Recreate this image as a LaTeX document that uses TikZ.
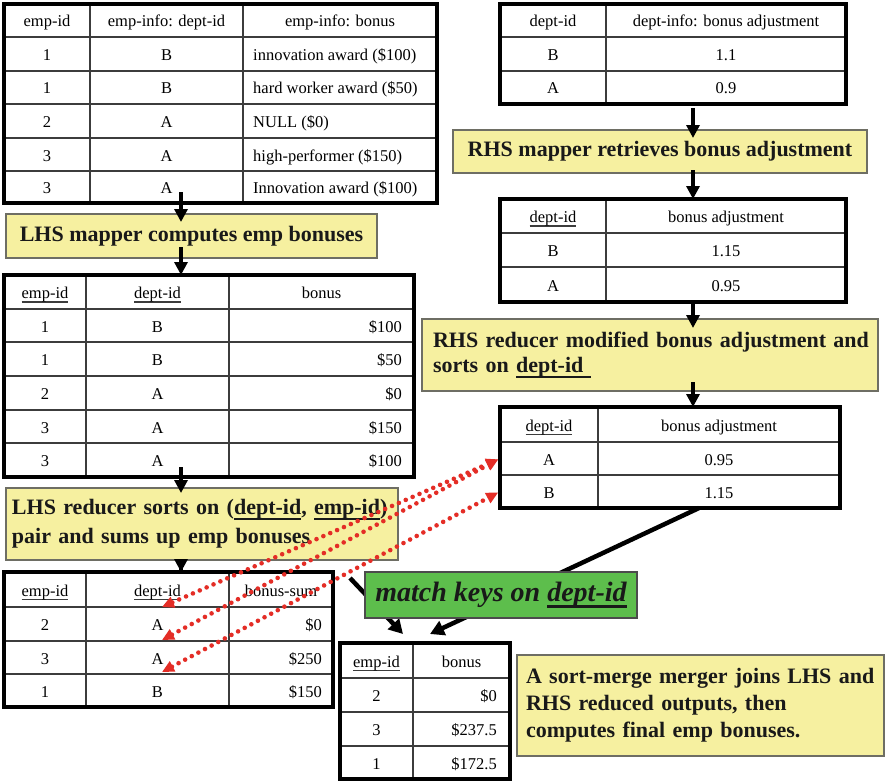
\documentclass[tikz,border=0pt]{standalone}
\usepackage{fontspec}
\setmainfont{Liberation Serif}
\usetikzlibrary{arrows.meta}
\definecolor{yel}{RGB}{246,240,160}
\definecolor{ybord}{RGB}{110,110,100}
\definecolor{grn}{RGB}{93,190,76}
\definecolor{myred}{RGB}{228,45,38}
\definecolor{gline}{RGB}{60,60,60}
\newsavebox\ulbx
\newcommand\ulT[1]{\sbox\ulbx{#1}\rlap{\color{gline}\vrule height -2.6pt depth 4.4pt width \wd\ulbx}\usebox\ulbx}
\newcommand\ulB[1]{\sbox\ulbx{#1}\rlap{\vrule height -3pt depth 5.2pt width \wd\ulbx}\usebox\ulbx}
\newcommand\ulG[1]{\sbox\ulbx{#1}\rlap{\vrule height -3.5pt depth 6.3pt width \wd\ulbx}\usebox\ulbx}
\begin{document}
\begin{tikzpicture}[x=1pt,y=-1pt,
  cell/.style={inner sep=0pt, text height=13pt, text depth=0pt, font=\fontsize{16.5}{19}\selectfont},
  tframe/.style={draw=black, line width=3.5pt, outer sep=0pt, inner sep=0pt, anchor=north west},
  grid/.style={draw=gline, line width=1.3pt},
  ybox/.style={draw=ybord, fill=yel, line width=1.5pt, outer sep=0pt, anchor=north west,
     font=\fontsize{22}{26}\selectfont\bfseries, text=black!90},
  gbox/.style={draw=black!70, fill=grn, line width=1.5pt, outer sep=0pt, anchor=north west,
     font=\fontsize{28}{32}\selectfont\bfseries\itshape, text=black!90},
  flow/.style={draw=black, line width=3.2pt, -{Triangle[length=13pt,width=13pt]}},
  merge/.style={draw=black, line width=4.5pt, -{Triangle[length=14pt,width=15pt]}},
  reddot/.style={draw=myred, line width=4.6pt, line cap=round, dash pattern=on 0pt off 7.5pt,
     {Triangle[length=12pt,width=11pt]}-{Triangle[length=12pt,width=11pt]}}
]
\useasboundingbox (0,0) rectangle (885,781);
\fill[white] (0,0) rectangle (885,781);

% ---------- Table 1 ----------
\foreach \x in {90,243} \draw[grid] (\x,4) -- (\x,203);
\foreach \y in {37,71,104,138,171} \draw[grid] (4,\y) -- (437,\y);
\node[tframe, minimum width=433pt, minimum height=199pt] (t1) at (4,4) {};
\node[cell] (t1h1) at (47,20.5) {emp-id};
\node[cell] (t1h2) at (166.5,20.5) {emp-info: dept-id};
\node[cell] (t1h3) at (340,20.5) {emp-info: bonus};
\foreach \e/\d/\b/\y [count=\i] in {1/B/{innovation award (\$100)}/54, 1/B/{hard worker award (\$50)}/87.5,
   2/A/{NULL (\$0)}/121, 3/A/{high-performer (\$150)}/154.5, 3/A/{Innovation award (\$100)}/187}{
  \node[cell] (t1e\i) at (47,\y) {\e};
  \node[cell] (t1d\i) at (166.5,\y) {\d};
  \node[cell, anchor=west] (t1b\i) at (253,\y) {\b};
}

% ---------- Table 2 ----------
\foreach \x in {86,229} \draw[grid] (\x,275) -- (\x,477);
\foreach \y in {309,342,376,410,443} \draw[grid] (4,\y) -- (414,\y);
\node[tframe, minimum width=410pt, minimum height=202pt] (t2) at (4,275) {};
\node[cell] (t2h1) at (45,292) {\ulT{emp-id}};
\node[cell] (t2h2) at (157.5,292) {\ulT{dept-id}};
\node[cell] (t2h3) at (321.5,292) {bonus};
\foreach \e/\d/\b/\y [count=\i] in {1/B/\$100/325.5, 1/B/\$50/359, 2/A/\$0/393, 3/A/\$150/426.5, 3/A/\$100/460}{
  \node[cell] (t2e\i) at (45,\y) {\e};
  \node[cell] (t2d\i) at (157.5,\y) {\d};
  \node[cell, anchor=east] (t2b\i) at (402,\y) {\b};
}

% ---------- Table 3 ----------
\foreach \x in {86,229} \draw[grid] (\x,572) -- (\x,707);
\foreach \y in {607,641,674} \draw[grid] (4,\y) -- (333,\y);
\node[tframe, minimum width=329pt, minimum height=135pt] (t3) at (4,572) {};
\node[cell] (t3h1) at (45,589.5) {\ulT{emp-id}};
\node[cell] (t3h2) at (157.5,589.5) {\ulT{dept-id}};
\node[cell] (t3h3) at (281,589.5) {bonus-sum};
\foreach \e/\d/\b/\y [count=\i] in {2/A/\$0/624, 3/A/\$250/657.5, 1/B/\$150/690.5}{
  \node[cell] (t3e\i) at (45,\y) {\e};
  \node[cell] (t3d\i) at (157.5,\y) {\d};
  \node[cell, anchor=east] (t3b\i) at (322,\y) {\b};
}

% ---------- Table 4 ----------
\draw[grid] (413,643) -- (413,779);
\foreach \y in {678,712,746} \draw[grid] (340,\y) -- (510,\y);
\node[tframe, minimum width=170pt, minimum height=136pt] (t4) at (340,643) {};
\node[cell] (t4h1) at (376.5,660.5) {\ulT{emp-id}};
\node[cell] (t4h2) at (461.5,660.5) {bonus};
\foreach \e/\b/\y [count=\i] in {2/\$0/695, 3/\$237.5/729, 1/\$172.5/762.5}{
  \node[cell] (t4e\i) at (376.5,\y) {\e};
  \node[cell, anchor=east] (t4b\i) at (497,\y) {\b};
}

% ---------- Table 5 ----------
\draw[grid] (606,4) -- (606,104);
\foreach \y in {37,71} \draw[grid] (500,\y) -- (846,\y);
\node[tframe, minimum width=346pt, minimum height=100pt] (t5) at (500,4) {};
\node[cell] (t5h1) at (553,20.5) {dept-id};
\node[cell] (t5h2) at (726,20.5) {dept-info: bonus adjustment};
\foreach \d/\v/\y [count=\i] in {B/1.1/54, A/0.9/87.5}{
  \node[cell] (t5d\i) at (553,\y) {\d};
  \node[cell] (t5v\i) at (726,\y) {\v};
}

% ---------- Table 6 ----------
\draw[grid] (606,199) -- (606,302);
\foreach \y in {233,267} \draw[grid] (500,\y) -- (846,\y);
\node[tframe, minimum width=346pt, minimum height=103pt] (t6) at (500,199) {};
\node[cell] (t6h1) at (553,216) {\ulT{dept-id}};
\node[cell] (t6h2) at (726,216) {bonus adjustment};
\foreach \d/\v/\y [count=\i] in {B/1.15/250, A/0.95/284.5}{
  \node[cell] (t6d\i) at (553,\y) {\d};
  \node[cell] (t6v\i) at (726,\y) {\v};
}

% ---------- Table 7 ----------
\draw[grid] (598,407) -- (598,508);
\foreach \y in {442,475} \draw[grid] (500,\y) -- (840,\y);
\node[tframe, minimum width=340pt, minimum height=101pt] (t7) at (500,407) {};
\node[cell] (t7h1) at (549,424.5) {\ulT{dept-id}};
\node[cell] (t7h2) at (719,424.5) {bonus adjustment};
\foreach \d/\v/\y [count=\i] in {A/0.95/458.5, B/1.15/491.5}{
  \node[cell] (t7a\i) at (549,\y) {\d};
  \node[cell] (t7v\i) at (719,\y) {\v};
}

% ---------- Yellow boxes ----------
\node[ybox, minimum width=371pt, minimum height=44pt] (b1) at (6,214) {LHS mapper computes emp bonuses};
\node[ybox, minimum height=72pt, text width=380pt, inner xsep=6pt, align=left,
      font=\fontsize{22}{29}\selectfont\bfseries] (b2) at (6,488)
      {\mbox{LHS reducer sorts on (\ulB{dept-id}, \ulB{emp-id})}\\pair and sums up emp bonuses};
\node[ybox, minimum width=414pt, minimum height=43pt] (b3) at (453,130) {RHS mapper retrieves bonus adjustment};
\node[ybox, minimum height=72pt, text width=434pt, inner xsep=11pt, align=left,
      font=\fontsize{22}{25.5}\selectfont\bfseries] (b4) at (422,319)
      {\mbox{RHS reducer modified bonus adjustment and}\\sorts on \ulB{dept-id\ }};
\node[ybox, minimum height=101pt, text width=349pt, inner xsep=9pt, align=left,
      font=\fontsize{22}{27}\selectfont\bfseries] (b5) at (517,655)
      {\mbox{A sort-merge merger joins LHS and}\\RHS reduced outputs, then\\computes final emp bonuses.};

% ---------- Flow arrows ----------
\coordinate (lx) at (181,0);
\coordinate (rx) at (693,0);
\draw[flow, shorten <=-11pt, shorten >=-8pt] (lx |- t1.south) -- (lx |- b1.north);
\draw[flow, shorten <=-11pt] (lx |- b1.south) -- (lx |- t2.north);
\draw[flow, shorten <=-10pt, shorten >=-5pt] (lx |- t2.south) -- (lx |- b2.north);
\draw[flow, shorten <=-10pt] (lx |- b2.south) -- (lx |- t3.north);
\draw[flow, shorten <=4pt, shorten >=-8pt] (rx |- t5.south) -- (rx |- b3.north);
\draw[flow, shorten <=-3pt] (rx |- b3.south) -- (rx |- t6.north);
\draw[flow, shorten >=-9pt] (rx |- t6.south) -- (rx |- b4.north);
\draw[flow, shorten <=-9pt] (rx |- b4.south) -- (rx |- t7.north);

% ---------- Red dotted key links ----------
\coordinate (lA1) at (162,607);
\coordinate (lA2) at (162,640);
\coordinate (lB1) at (162,672);
\draw[reddot, shorten >=2pt] (lA1) -- (t7.west |- t7a1);
\draw[reddot, shorten >=2pt] (lA2) -- (t7.west |- t7a1);
\draw[reddot, shorten >=2pt] (lB1) -- (t7.west |- t7a2);

% ---------- Merge arrows ----------
\coordinate (m1) at (350,578);
\draw[merge] (m1) -- ([xshift=-22pt,yshift=9pt]t4.north);
\draw[merge] ([xshift=29pt]t7.south) -- ([xshift=5pt,yshift=9pt]t4.north);

% ---------- Green label ----------
\node[gbox, minimum width=272pt, minimum height=46pt] (g) at (365,572) {match keys on \ulG{dept-id}};
\end{tikzpicture}
\end{document}
